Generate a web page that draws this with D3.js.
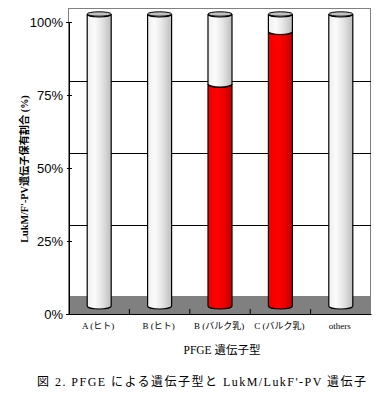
<!DOCTYPE html>
<html>
<head>
<meta charset="utf-8">
<script src="https://cdn.jsdelivr.net/npm/d3@7"></script>
<style>
  html, body { margin: 0; padding: 0; background: #fff; }
  svg { display: block; }
  text { fill: #000; }
</style>
</head>
<body>
<svg id="chart" width="389" height="407"></svg>
<script>
const categories = ["A (ヒト)", "B (ヒト)", "B (バルク乳)", "C (バルク乳)", "others"];
const positive = [0, 0, 76, 94, 0];
const total = [100, 100, 100, 100, 100];
const tick_values = [0, 25, 50, 75, 100];

const svg = d3.select("#chart");
const serif = "'Liberation Serif', 'Noto Sans CJK JP', serif";

const dim = {
  left: 69, right: 371, top: 22, bottom: 314,
  wall: 14, floor: 18, lift: 8, radius: 12, ry: 3
};

const x = d3.scaleBand().domain(categories).range([dim.left, dim.right]);
const y = d3.scaleLinear().domain([0, 100]).range([dim.bottom, dim.top]);
// the back wall has its own slightly shorter scale
const y_wall = d3.scaleLinear().domain([0, 100]).range([dim.bottom - 17, dim.top - 13]);

// shaded fills for the cylinders
const defs = svg.append("defs");
function addGradient(id, stops) {
  const g = defs.append("linearGradient").attr("id", id);
  stops.forEach(s => g.append("stop").attr("offset", s[0]).attr("stop-color", s[1]));
}
addGradient("grey_cyl", [[0, "#efefef"], [0.3, "#fbfbfb"], [0.6, "#e6e6e6"], [1, "#bdbdbd"]]);
addGradient("red_cyl", [[0, "#f00000"], [0.4, "#ff0000"], [0.7, "#e80000"], [1, "#bf0000"]]);

// back wall and floor
svg.append("rect")
  .attr("x", dim.left - 0.5).attr("y", dim.top - dim.wall + 0.5)
  .attr("width", dim.right - dim.left)
  .attr("height", dim.bottom - dim.top + dim.wall)
  .attr("fill", "#fff").attr("stroke", "#808080");

svg.append("rect")
  .attr("x", dim.left).attr("y", dim.bottom - dim.floor)
  .attr("width", dim.right - dim.left)
  .attr("height", dim.floor)
  .attr("fill", "#808080");

tick_values.slice(1, 4).forEach(v => {
  const gy = Math.round(y_wall(v)) + 0.5;
  svg.append("line")
    .attr("x1", dim.left).attr("x2", dim.right)
    .attr("y1", gy).attr("y2", gy)
    .attr("stroke", "#000");
});

// cylinders
function cylinder(g, cx, from, to, fill) {
  const y0 = y(from) - dim.lift;
  const y1 = y(to) - dim.lift;
  const r = dim.radius;
  g.append("path")
    .attr("d", `M${cx - r},${y1} V${y0} A${r},${dim.ry} 0 0 0 ${cx + r},${y0} V${y1} A${r},${dim.ry} 0 0 1 ${cx - r},${y1} Z`)
    .attr("fill", fill).attr("stroke", "#000").attr("stroke-width", 1.2);
}

const bars = svg.append("g");
categories.forEach((c, i) => {
  const cx = x(c) + x.bandwidth() / 2;
  if (positive[i] > 0) cylinder(bars, cx, 0, positive[i], "url(#red_cyl)");
  cylinder(bars, cx, positive[i], total[i], "url(#grey_cyl)");
  bars.append("ellipse")
    .attr("cx", cx).attr("cy", y(total[i]) - dim.lift)
    .attr("rx", dim.radius).attr("ry", 2.2)
    .attr("fill", "#c0c0c0").attr("stroke", "#000");
});

// axes
const y_axis = d3.axisLeft(y).tickValues(tick_values).tickSize(3).tickFormat(d => d + "%");
const y_g = svg.append("g").attr("transform", `translate(${dim.left},0)`).call(y_axis);
y_g.selectAll("text").attr("font-family", "'Liberation Sans', sans-serif").attr("font-size", 13);
y_g.selectAll(".tick line").attr("x2", 3).attr("x1", -2).attr("stroke", "#000");
y_g.select(".domain").attr("stroke", "#000");

const x_axis = d3.axisBottom(x).tickValues([]).tickSizeOuter(0);
const x_g = svg.append("g").attr("transform", `translate(0,${dim.bottom})`).call(x_axis);
x_g.select(".domain").attr("stroke", "#000").attr("stroke-width", 1.2);

// separators between the categories
x_g.selectAll("line.sep")
  .data(categories.slice(1))
  .enter().append("line")
  .attr("class", "sep")
  .attr("x1", d => x(d)).attr("x2", d => x(d))
  .attr("y1", -5).attr("y2", 0)
  .attr("stroke", "#000");

x_g.selectAll("text.cat")
  .data(categories)
  .enter().append("text")
  .attr("class", "cat")
  .attr("x", d => x(d) + x.bandwidth() / 2 - 1)
  .attr("y", 15)
  .attr("text-anchor", "middle")
  .attr("font-family", serif)
  .attr("font-size", 9)
  .text(d => d);

svg.append("text")
  .attr("x", 222).attr("y", 354)
  .attr("text-anchor", "middle")
  .attr("font-family", serif)
  .attr("font-size", 11.5)
  .text("PFGE 遺伝子型");

svg.append("text")
  .attr("transform", "translate(28,169) rotate(-90)")
  .attr("text-anchor", "middle")
  .attr("font-family", serif)
  .attr("font-size", 10.2)
  .attr("font-weight", "bold")
  .text("LukM/F'-PV遺伝子保有割合 (%)");

svg.append("text")
  .attr("x", 37).attr("y", 386)
  .attr("font-family", serif)
  .attr("font-size", 12)
  .attr("letter-spacing", 1.47)
  .text("図 2. PFGE による遺伝子型と LukM/LukF'-PV 遺伝子");
</script>
</body>
</html>
